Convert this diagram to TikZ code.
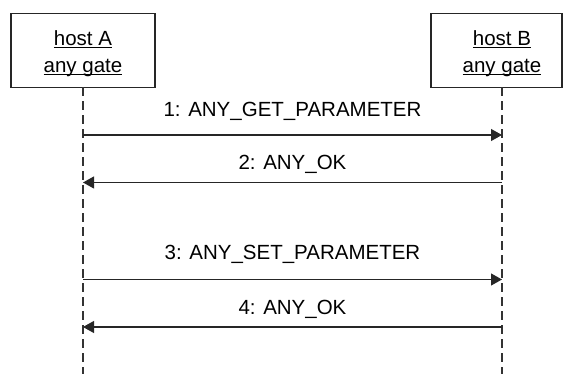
\documentclass[tikz,border=0pt]{standalone}
\usepackage{fontspec}
\setmainfont{Liberation Sans}
\usetikzlibrary{arrows.meta}
\newcommand{\myul}[1]{\setbox0\hbox{#1}\rlap{\rule[-2.8pt]{\wd0}{1.1pt}}\box0}
\tikzset{
  hostbox/.style={draw=black!85, line width=1.2pt, rectangle, minimum height=74pt, inner sep=0pt},
  hosttext/.style={font=\fontsize{20.5}{24}\selectfont, anchor=base, inner sep=0pt},
  msgtext/.style={font=\fontsize{20.5}{24}\selectfont, anchor=base, inner sep=0pt},
  lifeline/.style={draw=black!80, line width=1.2pt, dash pattern=on 9pt off 5pt},
  msg/.style={draw=black!85, line width=1.1pt, -{Triangle[length=11pt,width=12pt]}}
}
\begin{document}
\begin{tikzpicture}[x=1pt,y=-1pt]
\useasboundingbox (0,0) rectangle (563,374);
% hosts
\node[hostbox, minimum width=144pt] (A) at (83,50.5) {};
\node[hostbox, minimum width=131pt] (B) at (496.5,50.5) {};
\node[hosttext] (Aname) at (83,45.5) {\myul{host A}};
\node[hosttext] (Agate) at (83,72.5) {\myul{any gate}};
\node[hosttext] (Bname) at (502,45.5) {\myul{host B}};
\node[hosttext] (Bgate) at (502,72.5) {\myul{any gate}};
% lifelines
\coordinate (Atop) at (83,87.5);
\coordinate (Abot) at (83,374);
\coordinate (Btop) at (502,87.5);
\coordinate (Bbot) at (502,374);
\draw[lifeline] (Atop) -- (Abot);
\draw[lifeline] (Btop) -- (Bbot);
% message endpoints
\coordinate (A1) at (83,135);   \coordinate (B1) at (502,135);
\coordinate (A2) at (83,182.5); \coordinate (B2) at (502,182.5);
\coordinate (A3) at (83,279.5); \coordinate (B3) at (502,279.5);
\coordinate (A4) at (83,327);   \coordinate (B4) at (502,327);
\draw[msg] (A1) -- (B1);
\draw[msg] (B2) -- (A2);
\draw[msg] (A3) -- (B3);
\draw[msg] (B4) -- (A4);
% labels
\node[msgtext] (L1) at (292.5,116.5) {1: ANY\_GET\_PARAMETER};
\node[msgtext] (L2) at (292.5,170) {2: ANY\_OK};
\node[msgtext] (L3) at (292.5,260) {3: ANY\_SET\_PARAMETER};
\node[msgtext] (L4) at (292.5,315) {4: ANY\_OK};
\end{tikzpicture}
\end{document}
